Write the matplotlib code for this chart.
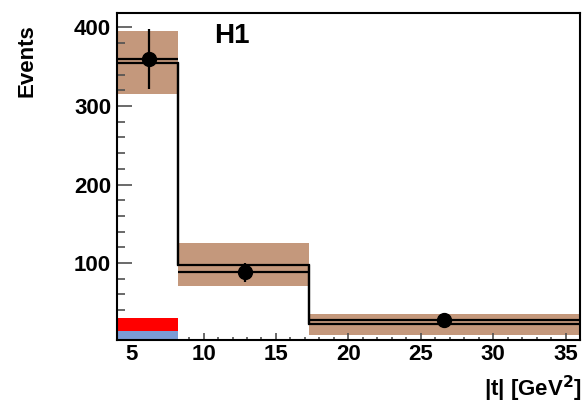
import numpy as np
import matplotlib
matplotlib.use("Agg")
import matplotlib.pyplot as plt

plt.rcParams["font.family"] = ["Liberation Sans", "DejaVu Sans"]
plt.rcParams["font.weight"] = "bold"

# bin edges in |t| [GeV^2]
edges = [4.0, 8.25, 17.25, 36.0]
# data points
t_data = [6.2, 12.85, 26.6]
n_data = [360, 88, 28]
n_err = [38, 12, 3]
# MC prediction and its uncertainty band
mc = [355, 98, 22]
mc_err = [40, 27, 13]
# background components (stacked)
bkg_blue = [13, 1, 1.5]
bkg_red = [17.5, 1.5, 0]

fig = plt.figure(figsize=(5.85, 4.09), dpi=100)
ax = fig.add_axes([0.1995, 0.1687, 0.7920, 0.7988])

edges = np.array(edges)
lo = edges[:-1]
w = np.diff(edges)
mc = np.array(mc)
mc_err = np.array(mc_err)

# uncertainty band
ax.bar(lo, 2 * mc_err, width=w, bottom=mc - mc_err, align="edge",
       color="#c4987c", linewidth=0, zorder=1)
# stacked backgrounds
ax.bar(lo, bkg_blue, width=w, align="edge", color="#7b9cd6", linewidth=0, zorder=2)
ax.bar(lo, bkg_red, width=w, bottom=bkg_blue, align="edge", color="#ff0000",
       linewidth=0, zorder=2)
# MC histogram
ax.stairs(mc, edges, color="black", linewidth=1.6, zorder=3, baseline=None)
ax.vlines(edges[1:-1], mc[1:], mc[:-1], color="black", linewidth=1.6, zorder=3)
# data: horizontal bars spanning the bins
ax.hlines(n_data, lo, edges[1:], color="black", linewidth=1.6, zorder=4)
ax.errorbar(t_data, n_data, yerr=n_err, fmt="o", color="black", ms=10,
            elinewidth=1.6, capsize=0, zorder=5)

ax.set_xlim(4, 36)
ax.set_ylim(2, 418)
ax.set_xticks([5, 10, 15, 20, 25, 30, 35])
ax.set_xticks(np.arange(5, 36, 1), minor=True)
ax.set_yticks([100, 200, 300, 400])
ax.set_yticks(np.arange(20, 420, 20), minor=True)

ax.tick_params(axis="both", which="both", direction="in", colors="#505050",
               labelcolor="black", labelsize=16)
ax.tick_params(axis="y", which="major", length=11, width=1.2, pad=4)
ax.tick_params(axis="y", which="minor", length=5.8, width=1.2)
ax.tick_params(axis="x", which="major", length=5, width=1.2, pad=3)
ax.tick_params(axis="x", which="minor", length=2.5, width=1.2)
for lab in ax.get_xticklabels() + ax.get_yticklabels():
    lab.set_fontweight("bold")
for s in ax.spines.values():
    s.set_linewidth(1.5)

ax.text(0.249, 0.93, "H1", transform=ax.transAxes, fontsize=20,
        fontweight="bold", ha="center", va="center")
fig.text(0.046, 0.94, "Events", rotation=90, fontsize=16, fontweight="bold",
         ha="center", va="top")
fig.text(0.995, 0.05, "|t| [GeV$^\\mathbf{2}$]", fontsize=16, fontweight="bold",
         ha="right", va="center")

fig.savefig("out.png", dpi=100)
